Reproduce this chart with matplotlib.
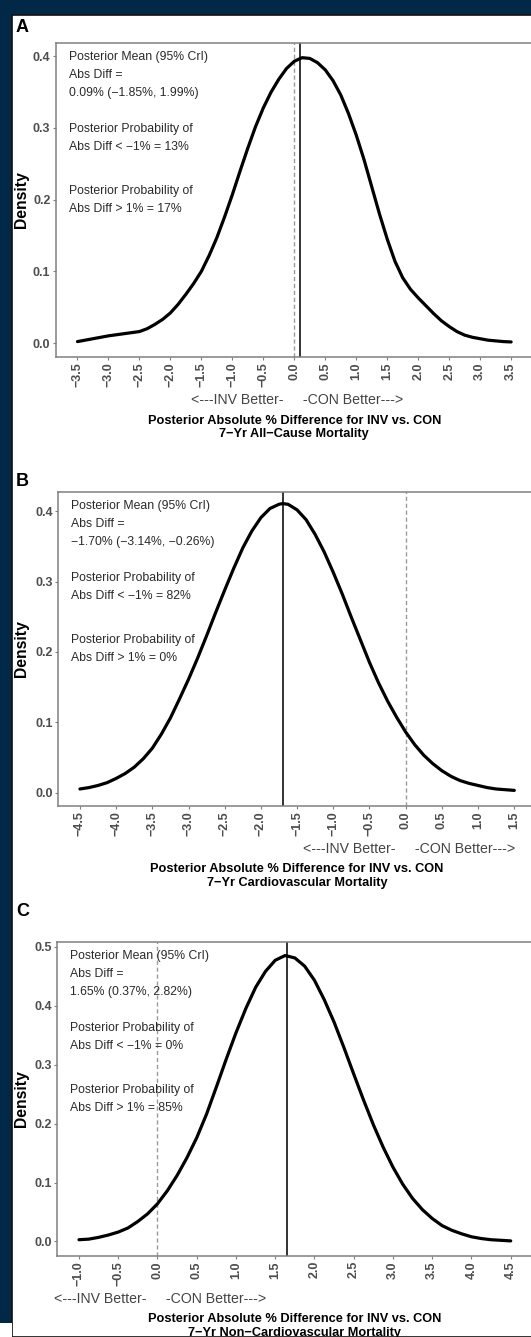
import matplotlib
matplotlib.use("Agg")
import matplotlib.pyplot as plt
from matplotlib.patches import Rectangle

W, H = 531, 1337
FONT = ["Liberation Sans", "DejaVu Sans"]
plt.rcParams["font.family"] = FONT

# ---- panel A: 7-yr all-cause mortality ----
a_x = [-3.5, -3.375, -3.25, -3.125, -3.0, -2.875, -2.75, -2.625, -2.5, -2.375,
       -2.25, -2.125, -2.0, -1.875, -1.75, -1.625, -1.5, -1.375, -1.25, -1.125,
       -1.0, -0.875, -0.75, -0.625, -0.5, -0.375, -0.25, -0.125, 0.0, 0.125,
       0.25, 0.375, 0.5, 0.625, 0.75, 0.875, 1.0, 1.125, 1.25, 1.375,
       1.5, 1.625, 1.75, 1.875, 2.0, 2.125, 2.25, 2.375, 2.5, 2.625,
       2.75, 2.875, 3.0, 3.125, 3.25, 3.375, 3.5]
a_density = [0.002, 0.004, 0.006, 0.008, 0.010, 0.0115, 0.013, 0.0145, 0.016, 0.020,
             0.026, 0.033, 0.042, 0.054, 0.068, 0.083, 0.100, 0.122, 0.147, 0.176,
             0.207, 0.240, 0.272, 0.302, 0.328, 0.350, 0.368, 0.383, 0.393, 0.398,
             0.397, 0.391, 0.381, 0.366, 0.346, 0.320, 0.290, 0.256, 0.218, 0.180,
             0.145, 0.114, 0.091, 0.075, 0.063, 0.052, 0.041, 0.031, 0.023, 0.016,
             0.011, 0.008, 0.006, 0.004, 0.003, 0.002, 0.0015]
a_mean = 0.09
a_xticks = [-3.5, -3.0, -2.5, -2.0, -1.5, -1.0, -0.5, 0.0, 0.5, 1.0, 1.5,
            2.0, 2.5, 3.0, 3.5]
a_yticks = [0.0, 0.1, 0.2, 0.3, 0.4]
a_notes = ["Posterior Mean (95% CrI)", "Abs Diff =", "0.09% (\u22121.85%, 1.99%)",
           "Posterior Probability of", "Abs Diff < \u22121% = 13%",
           "Posterior Probability of", "Abs Diff > 1% = 17%"]
a_outcome = "7\u2212Yr All\u2212Cause Mortality"

# ---- panel B: 7-yr cardiovascular mortality ----
b_x = [-4.5, -4.375, -4.25, -4.125, -4.0, -3.875, -3.75, -3.625, -3.5, -3.375,
       -3.25, -3.125, -3.0, -2.875, -2.75, -2.625, -2.5, -2.375, -2.25, -2.125,
       -2.0, -1.875, -1.75, -1.7, -1.625, -1.5, -1.375, -1.25, -1.125, -1.0,
       -0.875, -0.75, -0.625, -0.5, -0.375, -0.25, -0.125, 0.0, 0.125, 0.25,
       0.375, 0.5, 0.625, 0.75, 0.875, 1.0, 1.125, 1.25, 1.375, 1.5]
b_density = [0.005, 0.007, 0.010, 0.014, 0.020, 0.027, 0.036, 0.048, 0.063, 0.083,
             0.106, 0.133, 0.161, 0.191, 0.223, 0.256, 0.288, 0.319, 0.348, 0.372,
             0.391, 0.404, 0.410, 0.411, 0.410, 0.402, 0.388, 0.367, 0.342, 0.313,
             0.282, 0.249, 0.217, 0.185, 0.156, 0.130, 0.107, 0.086, 0.068, 0.053,
             0.041, 0.031, 0.023, 0.017, 0.013, 0.010, 0.007, 0.005, 0.004, 0.003]
b_mean = -1.70
b_xticks = [-4.5, -4.0, -3.5, -3.0, -2.5, -2.0, -1.5, -1.0, -0.5, 0.0, 0.5,
            1.0, 1.5]
b_yticks = [0.0, 0.1, 0.2, 0.3, 0.4]
b_notes = ["Posterior Mean (95% CrI)", "Abs Diff =",
           "\u22121.70% (\u22123.14%, \u22120.26%)",
           "Posterior Probability of", "Abs Diff < \u22121% = 82%",
           "Posterior Probability of", "Abs Diff > 1% = 0%"]
b_outcome = "7\u2212Yr Cardiovascular Mortality"

# ---- panel C: 7-yr non-cardiovascular mortality ----
c_x = [-1.0, -0.875, -0.75, -0.625, -0.5, -0.375, -0.25, -0.125, 0.0, 0.125,
       0.25, 0.375, 0.5, 0.625, 0.75, 0.875, 1.0, 1.125, 1.25, 1.375,
       1.5, 1.625, 1.75, 1.875, 2.0, 2.125, 2.25, 2.375, 2.5, 2.625,
       2.75, 2.875, 3.0, 3.125, 3.25, 3.375, 3.5, 3.625, 3.75, 3.875,
       4.0, 4.125, 4.25, 4.375, 4.5]
c_density = [0.003, 0.004, 0.007, 0.011, 0.016, 0.023, 0.034, 0.047, 0.064, 0.086,
             0.112, 0.142, 0.176, 0.216, 0.262, 0.309, 0.354, 0.395, 0.431, 0.458,
             0.477, 0.485, 0.481, 0.467, 0.443, 0.410, 0.372, 0.329, 0.284, 0.240,
             0.198, 0.160, 0.126, 0.097, 0.073, 0.054, 0.039, 0.027, 0.019, 0.013,
             0.008, 0.005, 0.003, 0.002, 0.001]
c_mean = 1.65
c_xticks = [-1.0, -0.5, 0.0, 0.5, 1.0, 1.5, 2.0, 2.5, 3.0, 3.5, 4.0, 4.5]
c_yticks = [0.0, 0.1, 0.2, 0.3, 0.4, 0.5]
c_notes = ["Posterior Mean (95% CrI)", "Abs Diff =", "1.65% (0.37%, 2.82%)",
           "Posterior Probability of", "Abs Diff < \u22121% = 0%",
           "Posterior Probability of", "Abs Diff > 1% = 85%"]
c_outcome = "7\u2212Yr Non\u2212Cardiovascular Mortality"

xlabel_top = "Posterior Absolute % Difference for INV vs. CON"
direction_label = "<---INV Better-     -CON Better--->"
note_offsets = [14, 32, 50, 86, 104, 148, 166]

NAVY = "#022848"
GREY = "#4d4d4d"
PT = 0.72  # points per pixel at 100 dpi

fig = plt.figure(figsize=(W / 100, H / 100), dpi=100, facecolor=NAVY)
fig.patches.append(Rectangle((12 / W, 0), 1, 1 - 15 / H, transform=fig.transFigure,
                             facecolor="white", edgecolor="#111111", lw=1.2,
                             zorder=-10))
fig.patches.append(Rectangle((0, 0), 12 / W, 14 / H, transform=fig.transFigure,
                             facecolor="white", edgecolor="none", zorder=-9))


def fmt(v):
    s = "%.1f" % v
    return s.replace("-", "\u2212")


def panel(letter, box, xlim, ylim, x, dens, mean, xticks, yticks, notes, outcome, letter_y):
    left, top, right, bottom = box
    ax = fig.add_axes([left / W, 1 - bottom / H, (right - left) / W, (bottom - top) / H])
    ax.set_facecolor("white")
    ax.axvline(0, color="#9a9a9a", lw=1.0, ls=(0, (3, 2)), zorder=1)
    ax.axvline(mean, color="#111111", lw=1.2, zorder=2)
    ax.plot(x, dens, color="black", lw=2.3, solid_capstyle="round",
            solid_joinstyle="round", zorder=3)
    ax.set_xlim(*xlim)
    ax.set_ylim(*ylim)
    ax.set_xticks(xticks)
    ax.set_xticklabels([fmt(v) for v in xticks], rotation=90)
    ax.set_yticks(yticks)
    ax.set_yticklabels([fmt(v) for v in yticks])
    ax.tick_params(axis="both", length=2.4, width=0.8, color="#7f7f7f",
                   labelcolor=GREY, labelsize=9, pad=1.5)
    for lab in ax.get_xticklabels() + ax.get_yticklabels():
        lab.set_fontweight("bold")
    for sp in ax.spines.values():
        sp.set_color("#808080")
        sp.set_linewidth(1.1)

    for off, line in zip(note_offsets, notes):
        ax.annotate(line, xy=(0, 1), xycoords="axes fraction",
                    xytext=(13 * PT, -off * PT), textcoords="offset points",
                    ha="left", va="center", fontsize=8.8, color="#2a2a2a")

    ax.annotate(direction_label, xy=(0, 0), xycoords=("data", "axes fraction"),
                xytext=(3 * PT, -43 * PT), textcoords="offset points",
                ha="center", va="center", fontsize=10.2, color="#444444",
                annotation_clip=False)
    ax.annotate(xlabel_top, xy=(0.5, 0), xycoords="axes fraction",
                xytext=(0, -63.5 * PT), textcoords="offset points",
                ha="center", va="center", fontsize=9.2, fontweight="bold",
                annotation_clip=False)
    ax.annotate(outcome, xy=(0.5, 0), xycoords="axes fraction",
                xytext=(0, -77 * PT), textcoords="offset points",
                ha="center", va="center", fontsize=9.2, fontweight="bold",
                annotation_clip=False)

    fig.text(21 / W, 1 - (top + bottom) / 2 / H, "Density", rotation=90,
             ha="center", va="center", fontsize=11.3, fontweight="bold")
    fig.text(16 / W, 1 - letter_y / H, letter, ha="left", va="center",
             fontsize=13, fontweight="bold")
    return ax


panel("A", (55.8, 43, 532.8, 357), (-3.85, 3.85), (-0.0195, 0.4185),
      a_x, a_density, a_mean, a_xticks, a_yticks, a_notes, a_outcome, 27.5)
panel("B", (58.2, 491.7, 536.0, 806), (-4.8, 1.8), (-0.0192, 0.4279),
      b_x, b_density, b_mean, b_xticks, b_yticks, b_notes, b_outcome, 482)
panel("C", (57.4, 941.7, 532.3, 1255.7), (-1.275, 4.775), (-0.0241, 0.5085),
      c_x, c_density, c_mean, c_xticks, c_yticks, c_notes, c_outcome, 911.5)

fig.savefig("out.png", dpi=100, facecolor=NAVY)
